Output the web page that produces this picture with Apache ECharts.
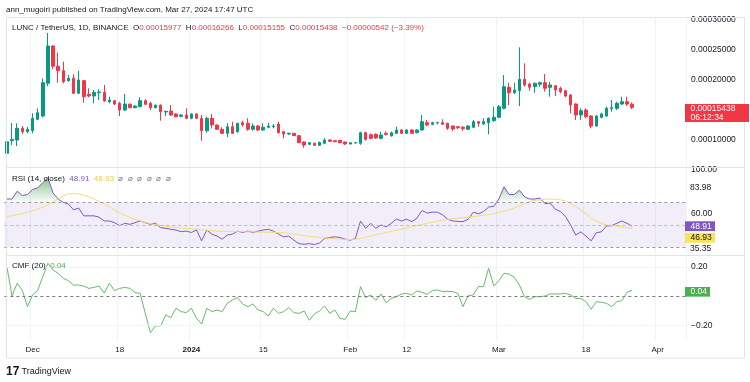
<!DOCTYPE html>
<html><head><meta charset="utf-8">
<script src="https://cdn.jsdelivr.net/npm/echarts@6/dist/echarts.min.js"></script>
<style>html,body{margin:0;padding:0;background:#fff}#c{width:750px;height:382px}</style>
</head><body><div id="c"></div>
<script>
// ---------- categories (daily, 1D) ----------
const startDate = Date.UTC(2023, 10, 26);
const dayCount = 133; // Nov 26 2023 .. Apr 6 2024 (visible time range)
const categories = [];
for (let i = 0; i < dayCount; i++) categories.push(new Date(startDate + i * 864e5).toISOString().slice(0, 10));

const tickDates  = ['2023-12-01','2023-12-18','2024-01-01','2024-01-15','2024-02-01','2024-02-12','2024-03-01','2024-03-18','2024-04-01'];
const tickLabels = ['Dec','18','2024','15','Feb','12','Mar','18','Apr'];

// ---------- LUNC/USDT daily candles ----------
const opens = [7783e-8,9883e-8,10000e-8,11950e-8,11383e-8,11550e-8,13450e-8,14000e-8,19450e-8,25667e-8,
22300e-8,21550e-8,19883e-8,20283e-8,17783e-8,19883e-8,17617e-8,17333e-8,17883e-8,17950e-8,
16383e-8,16550e-8,16117e-8,15000e-8,15950e-8,15383e-8,15550e-8,16550e-8,16117e-8,15383e-8,
15783e-8,14667e-8,14833e-8,14333e-8,13950e-8,14167e-8,13617e-8,14333e-8,13617e-8,11550e-8,
13617e-8,12500e-8,11783e-8,11117e-8,12217e-8,11383e-8,12883e-8,12783e-8,11783e-8,12333e-8,
11667e-8,12117e-8,12217e-8,12667e-8,11383e-8,11000e-8,11117e-8,10717e-8,9667e-8,9283e-8,
9450e-8,9117e-8,9450e-8,10000e-8,9883e-8,9950e-8,9667e-8,9333e-8,9500e-8,9450e-8,
11217e-8,10883e-8,10950e-8,10283e-8,11117e-8,10667e-8,11117e-8,11667e-8,11117e-8,11667e-8,
11217e-8,11667e-8,12883e-8,12617e-8,12833e-8,12883e-8,12783e-8,12333e-8,12217e-8,12117e-8,
11783e-8,12117e-8,13050e-8,12667e-8,12883e-8,13217e-8,13783e-8,15283e-8,18783e-8,17883e-8,
18217e-8,20117e-8,19333e-8,18883e-8,19283e-8,19550e-8,18783e-8,19050e-8,18617e-8,18217e-8,
17500e-8,16000e-8,14167e-8,15000e-8,14000e-8,12333e-8,13783e-8,14000e-8,15217e-8,15283e-8,
16000e-8,16383e-8,15977e-8];
const highs = [10833e-8,12833e-8,12783e-8,12333e-8,12167e-8,14450e-8,15283e-8,20283e-8,27833e-8,25833e-8,
24550e-8,23050e-8,20833e-8,20950e-8,21550e-8,20000e-8,18617e-8,18333e-8,18450e-8,19167e-8,
17217e-8,16667e-8,16383e-8,17667e-8,16117e-8,15783e-8,17117e-8,16783e-8,16383e-8,15950e-8,
15950e-8,14883e-8,15833e-8,14450e-8,14283e-8,15283e-8,14450e-8,14450e-8,14167e-8,13883e-8,
14333e-8,12550e-8,12117e-8,12800e-8,13050e-8,12883e-8,13217e-8,13617e-8,12783e-8,12500e-8,
12783e-8,12883e-8,12667e-8,13050e-8,11400e-8,11217e-8,11167e-8,10833e-8,9783e-8,9667e-8,
9550e-8,9717e-8,10283e-8,10117e-8,9950e-8,10000e-8,9717e-8,9617e-8,9667e-8,11383e-8,
11383e-8,11050e-8,11117e-8,11333e-8,11450e-8,11383e-8,12217e-8,11783e-8,11783e-8,11833e-8,
11783e-8,14167e-8,13333e-8,13050e-8,13050e-8,13450e-8,12883e-8,12450e-8,12333e-8,12333e-8,
12500e-8,13333e-8,13167e-8,13617e-8,13783e-8,15550e-8,15833e-8,20833e-8,19550e-8,19550e-8,
25450e-8,22783e-8,19550e-8,19550e-8,19717e-8,21000e-8,19717e-8,19167e-8,18883e-8,18333e-8,
17667e-8,16117e-8,15283e-8,15283e-8,14167e-8,14167e-8,14550e-8,15550e-8,16667e-8,16383e-8,
17217e-8,17217e-8,16266e-8];
const lows = [7500e-8,9167e-8,9000e-8,11000e-8,11117e-8,11117e-8,13333e-8,13783e-8,19000e-8,21800e-8,
19550e-8,19450e-8,19717e-8,17667e-8,17667e-8,16217e-8,17117e-8,16117e-8,16667e-8,16383e-8,
16117e-8,15833e-8,14000e-8,14833e-8,15283e-8,15283e-8,15450e-8,15783e-8,15000e-8,15283e-8,
13217e-8,14000e-8,14000e-8,13783e-8,13783e-8,13450e-8,13450e-8,13450e-8,9883e-8,11217e-8,
11950e-8,11667e-8,11000e-8,10500e-8,11000e-8,11217e-8,12217e-8,11550e-8,11550e-8,11500e-8,
11550e-8,11950e-8,11950e-8,11117e-8,10283e-8,10833e-8,10667e-8,9450e-8,8717e-8,9167e-8,
9000e-8,9000e-8,9333e-8,9667e-8,9617e-8,9450e-8,9167e-8,9283e-8,9450e-8,9200e-8,
9883e-8,10117e-8,10200e-8,10117e-8,10750e-8,10600e-8,11000e-8,11000e-8,11000e-8,11050e-8,
11117e-8,11550e-8,12333e-8,12450e-8,12617e-8,12500e-8,11667e-8,11550e-8,11783e-8,11550e-8,
11667e-8,11950e-8,12217e-8,12500e-8,10950e-8,13050e-8,13617e-8,15117e-8,15833e-8,17667e-8,
15667e-8,18883e-8,18217e-8,17883e-8,18883e-8,18050e-8,17217e-8,17333e-8,17783e-8,17117e-8,
14450e-8,13333e-8,13333e-8,13617e-8,11950e-8,12217e-8,13617e-8,13883e-8,14717e-8,15000e-8,
15833e-8,15667e-8,15155e-8];
const closes = [9717e-8,10117e-8,11950e-8,11383e-8,11783e-8,13617e-8,14550e-8,19550e-8,25667e-8,22300e-8,
21550e-8,19717e-8,20283e-8,17783e-8,20000e-8,17217e-8,17333e-8,17950e-8,18000e-8,16500e-8,
16667e-8,16000e-8,15000e-8,16000e-8,15383e-8,15667e-8,16550e-8,15950e-8,15383e-8,15783e-8,
14717e-8,14783e-8,14167e-8,13883e-8,14167e-8,13617e-8,14333e-8,13617e-8,11550e-8,13617e-8,
12500e-8,11783e-8,11117e-8,12217e-8,11117e-8,12783e-8,12500e-8,11783e-8,12333e-8,11667e-8,
12117e-8,12333e-8,12333e-8,11217e-8,11000e-8,11117e-8,10717e-8,9550e-8,9167e-8,9550e-8,
9117e-8,9617e-8,10000e-8,9783e-8,9717e-8,9550e-8,9333e-8,9550e-8,9550e-8,11217e-8,
10117e-8,10283e-8,10333e-8,10833e-8,10900e-8,11217e-8,11667e-8,11117e-8,11667e-8,11117e-8,
11667e-8,13050e-8,12500e-8,12883e-8,12883e-8,12617e-8,11950e-8,11833e-8,12050e-8,11883e-8,
12333e-8,13050e-8,12783e-8,13050e-8,13617e-8,13783e-8,15550e-8,18883e-8,17883e-8,18333e-8,
20117e-8,19167e-8,18783e-8,19450e-8,19550e-8,18617e-8,19167e-8,18333e-8,18050e-8,17333e-8,
15833e-8,14167e-8,14883e-8,13883e-8,12333e-8,14000e-8,14333e-8,15283e-8,15383e-8,16117e-8,
16383e-8,15980e-8,15438e-8];

// ---------- RSI (14, close) and its MA ----------
const rsi = [73.3,73.3,80.3,76.4,77.3,81.8,83.3,87.9,92.4,78.8,
73.3,70.3,68.8,63.6,65.2,58.2,58.2,58.2,57.0,53.6,
53.6,52.1,49.4,51.5,50.6,52.1,53.6,52.1,50.6,51.5,
47.6,47.0,46.1,45.5,44.0,44.5,43.3,45.5,35.8,45.5,
41.8,40.0,37.3,40.9,41.8,44.5,43.3,44.5,43.3,44.5,
45.5,46.1,44.5,41.8,39.4,40.0,36.4,33.3,32.7,33.3,
32.4,33.9,37.9,38.8,39.4,38.8,37.3,36.4,37.9,53.6,
47.0,51.5,47.0,50.0,48.5,51.5,55.2,53.6,55.2,53.0,
56.1,63.0,60.6,61.5,61.5,59.1,55.2,53.6,53.2,53.0,
55.2,61.5,60.0,62.1,66.1,66.7,73.3,84.2,77.3,77.3,
81.2,75.2,73.3,73.3,74.2,69.1,69.7,64.2,62.1,57.6,
50.0,40.9,43.9,40.0,35.8,43.0,43.9,49.1,49.4,51.5,
53.6,51.5,48.91];
const rsiMA = [57.6,58.4,59.3,60.3,61.4,62.7,64.2,66.0,68.2,70.8,
73.5,76.0,78.0,78.3,77.8,76.8,75.4,73.4,71.0,69.0,
66.5,63.5,61.0,58.8,56.8,55.0,53.5,52.3,51.2,50.3,
49.5,48.8,48.2,47.7,47.3,47.0,46.6,46.2,45.8,45.3,
44.8,44.5,44.3,44.2,44.1,44.0,44.0,43.9,43.8,43.7,
43.6,43.5,43.4,43.2,43.0,42.5,41.9,41.1,40.4,39.8,
39.3,38.8,38.4,38.0,37.6,37.3,37.1,37.0,37.2,38.0,
39.0,40.2,41.3,42.3,43.3,44.3,45.3,46.3,47.3,48.3,
49.5,50.5,51.5,52.5,53.3,54.2,55.0,55.6,56.2,56.7,
57.2,57.6,58.1,58.7,59.4,60.2,61.2,62.4,63.6,65.3,
67.2,69.0,70.8,72.0,72.7,73.1,73.3,73.1,72.6,71.5,
69.5,66.5,63.2,60.0,56.0,53.5,51.5,50.2,49.5,49.0,
48.4,47.7,46.93];

// ---------- CMF (20) ----------
const cmf = [0.20,0.00,0.087,0.04,-0.073,0.007,0.037,0.132,0.224,0.178,
0.155,0.121,0.105,0.075,0.075,0.068,0.052,0.059,0.068,0.02,
0.087,0.037,0.052,0.059,0.052,0.023,0.018,-0.119,-0.251,-0.205,
-0.205,-0.13,-0.148,-0.084,-0.107,-0.114,-0.084,-0.153,-0.192,-0.084,
-0.107,-0.096,-0.107,-0.05,-0.027,-0.011,-0.055,-0.073,-0.055,-0.096,
-0.107,-0.137,-0.084,-0.119,-0.107,-0.078,-0.114,-0.119,-0.103,-0.166,
-0.123,-0.103,-0.068,-0.119,-0.096,-0.153,-0.16,-0.103,-0.107,0.064,
-0.011,0.007,-0.03,0.014,-0.046,-0.017,-0.005,0.014,0.018,0.007,
0.034,0.025,0.011,0.037,0.041,0.03,0.032,0.03,0.018,-0.073,
0.002,0.007,0.064,0.064,0.19,0.068,0.105,0.155,0.15,0.128,
0.075,-0.005,-0.023,-0.005,-0.005,0.0,0.014,0.014,0.014,0.018,
0.007,-0.017,-0.017,-0.039,-0.091,-0.039,-0.043,-0.05,-0.073,-0.039,
-0.032,0.025,0.04];

const priceGridLevels = [0.0001, 0.00015, 0.0002, 0.00025, 0.0003];
const lastClose = closes[closes.length - 1];
const rsiLast = 48.91, rsiMALast = 46.93, cmfLast = 0.04;
const rsiScaleMarks = [83.98, 35.35];

// ---------- build ----------
const FONT = '"Liberation Sans", Arial, sans-serif';
const TXT = '#131722';
const UP = '#089981', DOWN = '#F23645';
const candleData = opens.map((o, i) => [o, closes[i], lows[i], highs[i]]);
const rsiOverBase = rsi.map(() => 70);
const rsiOverExcess = rsi.map(v => Math.max(v - 70, 0));
const tickSet = new Set(tickDates);
const labelOf = {}; tickDates.forEach((d, i) => labelOf[d] = tickLabels[i]);

const gridLeft = 4.34, gridWidth = 681.6;
const xAxisBase = (gi, showLabel) => ({
  type: 'category', gridIndex: gi, data: categories, boundaryGap: true,
  axisLine: {show: false}, axisTick: {show: false},
  splitLine: {show: true, interval: (i, v) => tickSet.has(v), lineStyle: {color: '#f0f3fa', width: 1}},
  axisLabel: {show: showLabel, interval: (i, v) => tickSet.has(v), margin: 6,
    color: TXT, fontSize: 8, fontFamily: FONT,
    formatter: v => v === '2024-01-01' ? '{b|' + labelOf[v] + '}' : (labelOf[v] || ''),
    rich: {b: {fontWeight: 'bold', fontSize: 8, color: TXT, fontFamily: FONT}}}
});
const yLabel = (fmt) => ({color: TXT, fontSize: 8.5, fontFamily: FONT, margin: 5, formatter: fmt});

const option = {
  backgroundColor: '#fff',
  animation: false,
  grid: [
    {left: gridLeft, width: gridWidth, top: 17, height: 150},
    {left: gridLeft, width: gridWidth, top: 167, height: 87},
    {left: gridLeft, width: gridWidth, top: 255.1, height: 84.7}
  ],
  xAxis: [xAxisBase(0, false), xAxisBase(1, false), xAxisBase(2, true)],
  yAxis: [
    {type: 'value', gridIndex: 0, position: 'right', min: 0.000055, max: 0.000305, interval: 0.000005,
     splitLine: {show: false}, axisLine: {show: false}, axisTick: {show: false},
     axisLabel: yLabel(v => { const k = Math.round(v * 1e6); return (k % 50 === 0 && k >= 100 && k <= 300 && k !== 150) ? v.toFixed(8) : ''; })},
    {type: 'value', gridIndex: 1, position: 'right', min: 24, max: 102, interval: 4,
     splitLine: {show: false}, axisLine: {show: false}, axisTick: {show: false},
     axisLabel: yLabel(v => (v === 100 || v === 60) ? v.toFixed(2) : '')},
    {type: 'value', gridIndex: 2, position: 'right', min: -0.3, max: 0.28, interval: 0.1,
     splitLine: {show: false}, axisLine: {show: false}, axisTick: {show: false},
     axisLabel: yLabel(v => { const r = Math.round(v * 10); return r === 2 ? '0.20' : (r === -2 ? '\u22120.20' : ''); })}
  ],
  series: [
    {type: 'candlestick', xAxisIndex: 0, yAxisIndex: 0, data: candleData, barWidth: 3,
     itemStyle: {color: UP, color0: DOWN, borderColor: UP, borderColor0: DOWN, borderWidth: 1},
     markLine: {silent: true, symbol: ['none', 'none'], label: {show: false},
       data: priceGridLevels.map(v => ({yAxis: v, lineStyle: {color: '#f0f3fa', type: 'solid', width: 1}}))
         .concat([{yAxis: lastClose, lineStyle: {color: DOWN, type: [1, 2], width: 1}}])}},
    {type: 'line', xAxisIndex: 1, yAxisIndex: 1, data: rsiOverBase, stack: 'ob', symbol: 'none',
     lineStyle: {opacity: 0}, silent: true},
    {type: 'line', xAxisIndex: 1, yAxisIndex: 1, data: rsiOverExcess, stack: 'ob', symbol: 'none',
     lineStyle: {opacity: 0}, silent: true,
     areaStyle: {color: new echarts.graphic.LinearGradient(0, 0, 0, 1, [
       {offset: 0, color: 'rgba(56,142,60,0.85)'}, {offset: 1, color: 'rgba(76,175,80,0.04)'}])}},
    {type: 'line', xAxisIndex: 1, yAxisIndex: 1, data: rsi, symbol: 'none',
     lineStyle: {color: '#7E57C2', width: 1},
     markArea: {silent: true, itemStyle: {color: 'rgba(126,87,194,0.1)'}, data: [[{yAxis: 30}, {yAxis: 70}]]},
     markLine: {silent: true, symbol: ['none', 'none'], label: {show: false},
       data: [
         {yAxis: 70, lineStyle: {color: '#9598a1', type: [3, 3], width: 1}},
         {yAxis: 50, lineStyle: {color: '#b8bbc4', type: [3, 3], width: 1}},
         {yAxis: 30, lineStyle: {color: '#9598a1', type: [3, 3], width: 1}}]}},
    {type: 'line', xAxisIndex: 1, yAxisIndex: 1, data: rsiMA, symbol: 'none',
     lineStyle: {color: '#F2DF6B', width: 1}},
    {type: 'line', xAxisIndex: 2, yAxisIndex: 2, data: cmf, symbol: 'none',
     lineStyle: {color: '#66BB6A', width: 1},
     markLine: {silent: true, symbol: ['none', 'none'], label: {show: false},
       data: [
         {yAxis: 0.2, lineStyle: {color: '#f0f3fa', type: 'solid', width: 1}},
         {yAxis: -0.2, lineStyle: {color: '#f0f3fa', type: 'solid', width: 1}},
         {yAxis: 0, lineStyle: {color: '#787B86', type: [3, 3], width: 1}}]}}
  ]
};

const chart = echarts.init(document.getElementById('c'), null, {renderer: 'canvas'});
chart.setOption(option);

// ---------- texts, frame and value boxes ----------
const yPx = (axis, v) => chart.convertToPixel({yAxisIndex: axis}, v);
const T = (x, y, text, fill, size, extra) => Object.assign({type: 'text', x, y, silent: true, z: 10,
  style: Object.assign({text, fill, font: size + 'px ' + FONT, verticalAlign: 'middle', textVerticalAlign: 'middle'}, extra || {})});
const box = (y, dy, h, w, bg, lines, fg) => ({type: 'group', x: 685, y, z: 10, silent: true, children: [
  {type: 'rect', shape: {x: 0, y: dy, width: w, height: h}, style: {fill: bg}, z: 10},
  ...lines.map(l => T(5.5, l[1], l[0], fg, 8.5))]});

const legendRich = {
  d: {fill: TXT, fontSize: 8, fontFamily: FONT},
  r: {fill: DOWN, fontSize: 8, fontFamily: FONT},
  p: {fill: '#7E57C2', fontSize: 8, fontFamily: FONT},
  y: {fill: '#E8CF3A', fontSize: 8, fontFamily: FONT},
  g: {fill: '#4CAF50', fontSize: 8, fontFamily: FONT},
  n: {fill: '#787B86', fontSize: 8, fontFamily: FONT}
};
const legendText = '{d|LUNC / TetherUS, 1D, BINANCE  O}{r|0.00015977}{d|  H}{r|0.00016266}{d|  L}{r|0.00015155}{d|  C}{r|0.00015438}{r|  \u22120.00000542 (\u22123.39%)}';

const yP = yPx(0, lastClose), yR = yPx(1, rsiLast), yM = yPx(1, rsiMALast), yC = yPx(2, cmfLast);
chart.setOption({graphic: [
  {type: 'rect', shape: {x: 6.5, y: 17.5, width: 738, height: 340.5}, style: {fill: 'none', stroke: '#e0e3eb', lineWidth: 1}, silent: true, z: 5},
  {type: 'line', shape: {x1: 6.5, y1: 167.5, x2: 744.5, y2: 167.5}, style: {stroke: '#e0e3eb', lineWidth: 1}, silent: true, z: 5},
  {type: 'line', shape: {x1: 6.5, y1: 255.5, x2: 744.5, y2: 255.5}, style: {stroke: '#e0e3eb', lineWidth: 1}, silent: true, z: 5},
  T(6, 10, 'ann_mugoiri published on TradingView.com, Mar 27, 2024 17:47 UTC', TXT, 8),
  T(12, 27.5, legendText, TXT, 8, {rich: legendRich}),
  T(12, 178.5, '{d|RSI (14, close)  }{p|48.91}{d|  }{y|46.93}{n|  \u2300  \u2300  \u2300  \u2300  \u2300  \u2300}', TXT, 8, {rich: legendRich}),
  T(12, 265.5, '{d|CMF (20)  }{g|0.04}', TXT, 8, {rich: legendRich}),
  T(6, 372, '17', TXT, 10, {fontWeight: 900, font: '900 10px ' + FONT}),
  T(21.5, 372, 'TradingView', TXT, 9),
  box(yP, -3.4, 18, 64, DOWN, [['0.00015438', 1], ['06:12:34', 10]], '#fff'),
  box(yR, -4.9, 9.8, 30, '#7E57C2', [['48.91', 0]], '#fff'),
  box(yM, 4.3, 10, 30, '#F7E458', [['46.93', 9.3]], TXT),
  box(yC, -3.2, 9.7, 25, '#4CAF50', [['0.04', 1.6]], '#fff'),
  T(690, yPx(1, rsiScaleMarks[0]) + 1, '83.98', TXT, 8.5),
  T(690, yPx(1, rsiScaleMarks[1]) + 7, '35.35', TXT, 8.5)
]});
</script></body></html>
